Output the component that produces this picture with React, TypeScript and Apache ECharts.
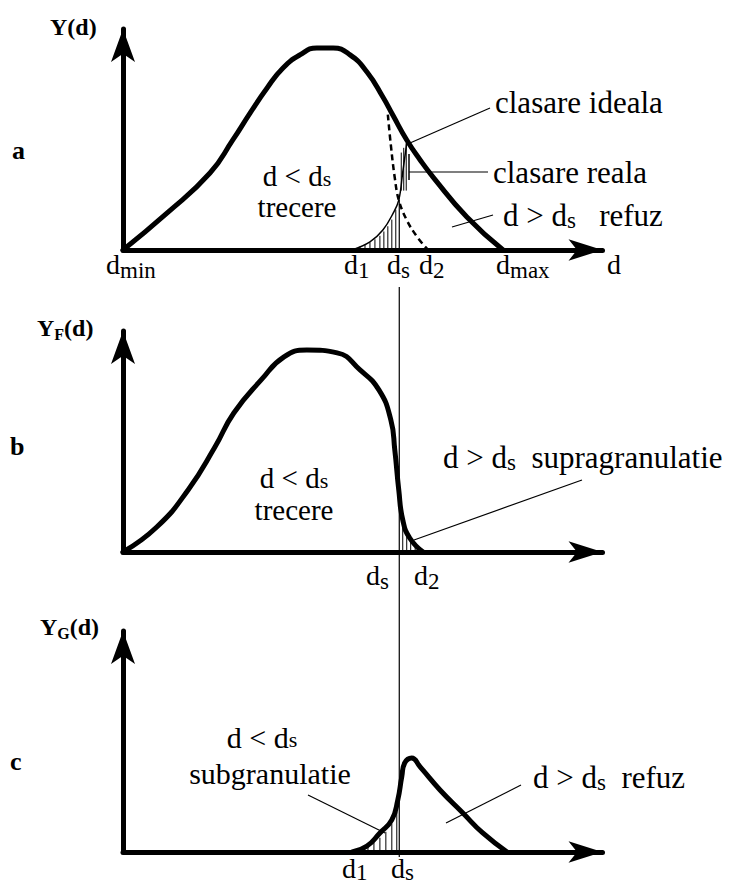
import React, { useEffect, useRef } from "react";
import * as echarts from "echarts";

// ---------- data (arbitrary units: d along the horizontal, Y along the vertical) ----------
const X_MAX = 96.5;
const Y_MAX = 93;
const DS = 55.6; // separation size d_s

// panel a: Y(d)
const aMainD = [0, 8.9, 17.5, 22.1, 25.6, 29.0, 32.2, 35.6, 39.0, 42.3, 45.7, 49.1, 52.3, 54.3, 57.1, 59.8, 62.4, 69.2, 76.5];
const aMainY = [0, 15.6, 32.4, 46.3, 57.7, 68.2, 76.6, 82.1, 85.0, 85.0, 82.1, 74.9, 64.4, 56.8, 46.3, 37.9, 30.7, 13.9, 0];
const aFineD = [53.3, 53.9, 54.7, 55.5, 57.1, 59.2, 61.4];
const aFineY = [57, 44.2, 30.3, 21.0, 12.6, 5.5, 0];
const aCoarseD = [46.1, 49.7, 52.3, 54.3, 55.5, 56.3, 57.1];
const aCoarseY = [0, 3.4, 8.4, 15.2, 21.0, 32.8, 45.0];
const aHatchD = [46.7, 47.7, 48.7, 49.7, 50.7, 51.7, 52.5, 53.3, 54.1, 54.9];
const aHatchY = [0.8, 1.5, 2.2, 3.2, 4.5, 6.0, 7.8, 10.0, 12.8, 17.0];
const aBandD = [56.0, 56.5, 57.0];
const aBandY0 = [25, 25, 25];
const aBandY1 = [41, 43, 45];

// panel b: Y_F(d)
const bMainD = [0, 6.8, 13.1, 18.5, 22.3, 27.8, 32.4, 37.0, 43.1, 47.7, 51.5, 53.9, 54.7, 55.5, 56.3, 57.7, 60.4];
const bMainY = [0, 10.5, 26.1, 44.2, 58.5, 72.4, 82.1, 85.0, 83.8, 76.6, 68.2, 55.6, 42.9, 26.1, 13.5, 5.9, 0];
const bHatchD = [56.3, 57.1, 57.9, 58.8];
const bHatchY = [12, 8, 5, 2.5];

// panel c: Y_G(d)
const cMainD = [46.1, 49.1, 51.7, 54.1, 55.3, 56.1, 56.7, 58.1, 59.8, 63.8, 68.4, 72.4, 77.3];
const cMainY = [0, 2.5, 8.0, 13.5, 21.9, 31.6, 37.5, 39.6, 35.8, 26.1, 16.4, 8.0, 0];
const cHatchD = [48.1, 49.3, 50.5, 51.7, 52.9, 54.1, 55.1];
const cHatchY = [1.5, 2.5, 4, 6, 8.5, 12, 17];

// tick labels
const aTickLabels = ["d{s|min}", "d{s|1}", "d{s|s}", "d{s|2}", "d{s|max}", "d"];
const bTickLabels = ["d{s|s}", "d{s|2}"];
const cTickLabels = ["d{s|1}", "d{s|s}"];

const zip = (a: number[], b: number[]) => a.map((v, i) => [v, b[i]]);
const zip3 = (a: number[], b: number[], c: number[]) => a.map((v, i) => [v, b[i], c[i]]);

const FONT = "'Liberation Serif', 'DejaVu Serif', serif";

const GRIDS = [
  { left: 123, top: 29, width: 479.5, height: 221 },
  { left: 123, top: 331, width: 479.5, height: 221 },
  { left: 123, top: 631, width: 479.5, height: 221 },
];

function txt(x: number, y: number, text: string, size: number, opts: any = {}) {
  return {
    type: "text",
    x,
    y,
    z: 50,
    style: {
      text,
      fontFamily: FONT,
      fontSize: size,
      fontWeight: opts.bold ? "bold" : "normal",
      fill: "#000",
      align: opts.align || "left",
      verticalAlign: "middle",
      rich: {
        s: {
          fontFamily: FONT,
          fontSize: opts.sub || Math.round(size * 0.7),
          fontWeight: opts.bold ? "bold" : "normal",
          padding: [opts.drop != null ? opts.drop : Math.round(size * 0.45), 0, 0, 0],
        },
      },
    },
  };
}

function seg(x1: number, y1: number, x2: number, y2: number, w = 1.2) {
  return { type: "line", z: 50, shape: { x1, y1, x2, y2 }, style: { stroke: "#000", lineWidth: w } };
}

const hatchRender = (params: any, api: any) => {
  const p0 = api.coord([api.value(0), api.value(1)]);
  const p1 = api.coord([api.value(0), api.value(2)]);
  return {
    type: "line",
    shape: { x1: p0[0], y1: p0[1], x2: p1[0], y2: p1[1] },
    style: { stroke: "#000", lineWidth: 1 },
  };
};

export default function App() {
  const ref = useRef<HTMLDivElement>(null);
  useEffect(() => {
    document.body.style.margin = "0";
    if (!ref.current) return;
    const chart = echarts.init(ref.current, null, { renderer: "svg" });

    const axisLineX = {
      show: true,
      onZero: false,
      symbol: ["none", "arrow"],
      symbolSize: [16, 34],
      lineStyle: { color: "#000", width: 5 },
    };
    const axisLineY = {
      show: true,
      onZero: false,
      symbol: ["none", "arrow"],
      symbolSize: [18, 33],
      lineStyle: { color: "#000", width: 5 },
    };
    const xAxes = GRIDS.map((_, i) => ({
      type: "value",
      gridIndex: i,
      min: 0,
      max: X_MAX,
      axisLine: axisLineX,
      axisTick: { show: false },
      axisLabel: { show: false },
      splitLine: { show: false },
    }));
    const yAxes = GRIDS.map((_, i) => ({
      type: "value",
      gridIndex: i,
      min: 0,
      max: Y_MAX,
      axisLine: axisLineY,
      axisTick: { show: false },
      axisLabel: { show: false },
      splitLine: { show: false },
    }));

    const thick = (g: number, data: number[][], name: string) => ({
      type: "line",
      name,
      xAxisIndex: g,
      yAxisIndex: g,
      data,
      smooth: 0.5,
      symbol: "none",
      z: 10,
      lineStyle: { color: "#000", width: 5, cap: "round", join: "round" },
    });
    const hatch = (g: number, data: number[][], name: string) => ({
      type: "custom",
      name,
      xAxisIndex: g,
      yAxisIndex: g,
      data,
      encode: { x: 0, y: [1, 2] },
      renderItem: hatchRender,
      z: 5,
    });

    const option: any = {
      animation: false,
      backgroundColor: "#fff",
      grid: GRIDS.map((g) => ({ ...g, containLabel: false })),
      xAxis: xAxes,
      yAxis: yAxes,
      series: [
        thick(0, zip(aMainD, aMainY), "Y"),
        {
          type: "line",
          name: "fine",
          xAxisIndex: 0,
          yAxisIndex: 0,
          data: zip(aFineD, aFineY),
          smooth: 0.4,
          symbol: "none",
          z: 8,
          lineStyle: { color: "#000", width: 2.5, type: [6, 4] },
        },
        {
          type: "line",
          name: "coarse",
          xAxisIndex: 0,
          yAxisIndex: 0,
          data: zip(aCoarseD, aCoarseY),
          smooth: 0.4,
          symbol: "none",
          z: 8,
          lineStyle: { color: "#000", width: 1.5 },
        },
        hatch(0, aHatchD.map((d, i) => [d, 0, aHatchY[i]]), "hatchA"),
        hatch(0, zip3(aBandD, aBandY0, aBandY1), "bandA"),
        thick(1, zip(bMainD, bMainY), "YF"),
        hatch(1, bHatchD.map((d, i) => [d, 0, bHatchY[i]]), "hatchB"),
        thick(2, zip(cMainD, cMainY), "YG"),
        hatch(2, cHatchD.map((d, i) => [d, 0, cHatchY[i]]), "hatchC"),
      ],
    };
    chart.setOption(option);

    const P = (g: number, x: number, y: number) => chart.convertToPixel({ gridIndex: g }, [x, y]) as number[];
    const top = P(0, DS, 21);
    const aBase = P(0, DS, 0);
    const bottom = P(2, DS, 0);
    const xs = top[0];

    const graphic: any[] = [
      // separation line at d_s
      seg(xs, top[1], xs, aBase[1], 1.2),
      seg(xs, aBase[1] + 37, xs, bottom[1] + 5, 1.2),
      // axis names
      txt(50, 27, "Y(d)", 24, { bold: true }),
      txt(37, 328, "Y{s|F}(d)", 24, { bold: true, sub: 16, drop: 12 }),
      txt(40, 627, "Y{s|G}(d)", 24, { bold: true, sub: 16, drop: 12 }),
      txt(12, 150, "a", 26, { bold: true }),
      txt(10, 446, "b", 26, { bold: true }),
      txt(10, 761, "c", 26, { bold: true }),
      // tick labels panel a
      txt(106, 264, aTickLabels[0], 28, { sub: 23, drop: 12 }),
      txt(344, 264, aTickLabels[1], 28, { sub: 23, drop: 12 }),
      txt(387, 264, aTickLabels[2], 28, { sub: 23, drop: 12 }),
      txt(419, 264, aTickLabels[3], 28, { sub: 23, drop: 12 }),
      txt(496, 264, aTickLabels[4], 28, { sub: 23, drop: 12 }),
      txt(607, 264, aTickLabels[5], 28),
      // tick labels panel b
      txt(366, 575, bTickLabels[0], 28, { sub: 23, drop: 12 }),
      txt(414, 575, bTickLabels[1], 28, { sub: 23, drop: 12 }),
      // tick labels panel c
      txt(342, 868, cTickLabels[0], 28, { sub: 23, drop: 8 }),
      txt(391, 868, cTickLabels[1], 28, { sub: 23, drop: 8 }),
      // annotations panel a
      txt(297, 176, "d < d{s|s}", 29, { align: "center", sub: 22, drop: 4 }),
      txt(297, 207, "trecere", 29, { align: "center" }),
      txt(495, 102, "clasare ideala", 31),
      txt(493, 172, "clasare reala", 31),
      txt(503, 215, "d > d{s|s}   refuz", 31, { sub: 23, drop: 10 }),
      seg(410, 143, 490, 108),
      seg(409, 172, 488, 172),
      seg(409, 154, 409, 180, 1.5),
      seg(452, 227, 493, 215),
      // annotations panel b
      txt(294, 478, "d < d{s|s}", 29, { align: "center", sub: 22, drop: 4 }),
      txt(294, 510, "trecere", 29, { align: "center" }),
      txt(443, 457, "d > d{s|s}  supragranulatie", 31, { sub: 23, drop: 10 }),
      seg(414, 540, 582, 480),
      // annotations panel c
      txt(262, 737, "d < d{s|s}", 30, { align: "center", sub: 22, drop: 4 }),
      txt(270, 773, "subgranulatie", 30, { align: "center" }),
      txt(533, 777, "d > d{s|s}  refuz", 31, { sub: 23, drop: 10 }),
      seg(308, 795, 385, 833),
      seg(446, 823, 521, 785),
    ];
    chart.setOption({ graphic });

    return () => chart.dispose();
  }, []);
  return <div ref={ref} style={{ width: 743, height: 888 }} />;
}
